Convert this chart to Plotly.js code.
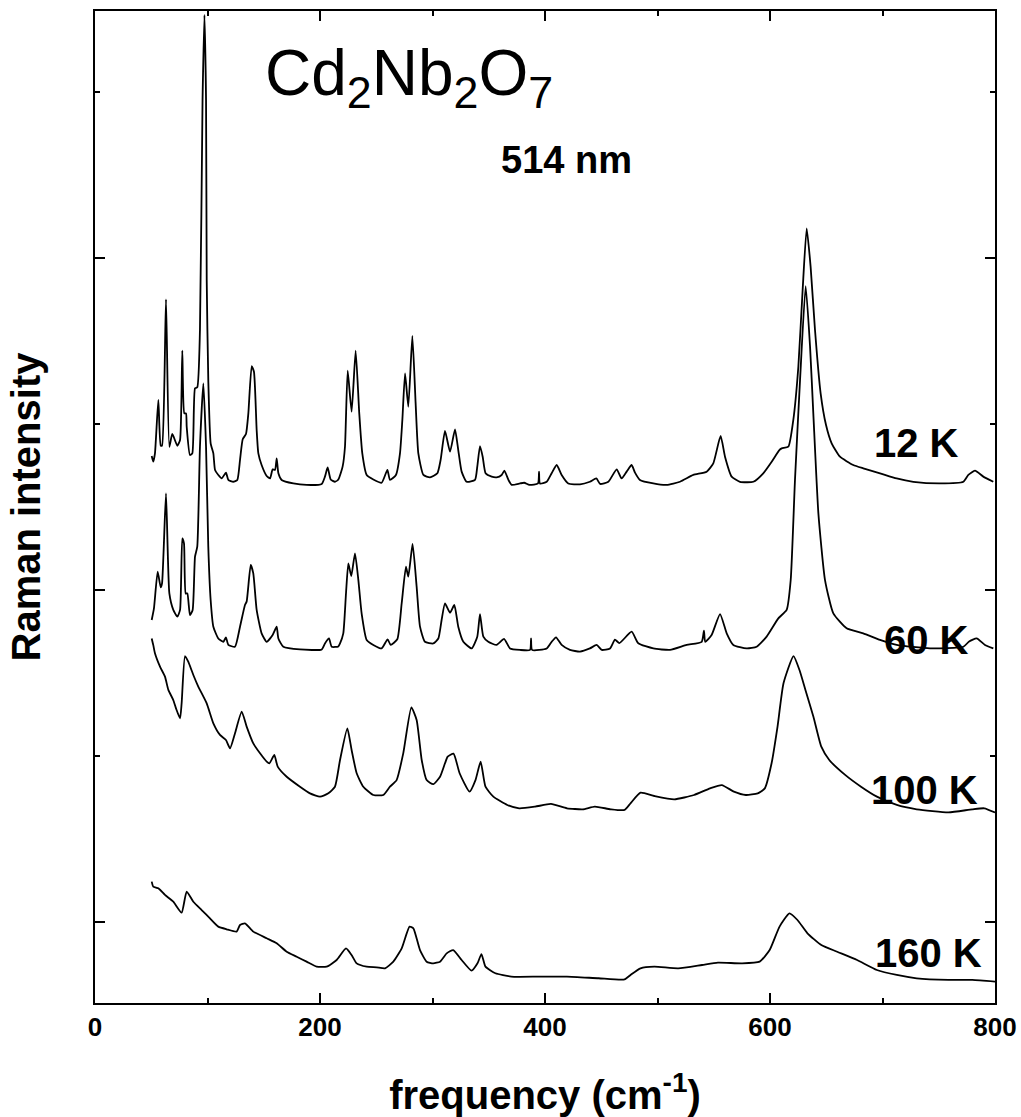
<!DOCTYPE html>
<html>
<head>
<meta charset="utf-8">
<script src="https://cdn.plot.ly/plotly-3.0.1.min.js"></script>
<style>
  html, body { margin: 0; padding: 0; background: #fff; }
  #chart { width: 1021px; height: 1117px; }
</style>
</head>
<body>
<div id="chart"></div>
<script>
// Raman spectra of Cd2Nb2O7 (514 nm excitation), curves offset vertically by temperature.
// Frequencies in cm^-1, intensities in arbitrary (offset) units.

const freq12K = [50.4,51.8,53.3,56.3,58.4,59.6,63.1,66.1,68.7,73.2,75.6,77.6,79.4,80.9,81.5,84.4,86.5,88.9,90.9,93.3,95.6,97.3,98.7,99.3,100.7,102.8,105.2,106.7,109.6,112.6,116.4,118.5,122.9,126.5,128.9,131.3,134.2,136.3,139.3,141.3,143.7,145.2,148.1,152.6,155.6,157.9,160.0,161.5,163.0,165.9,176.3,188.1,201.5,204.4,206.8,209.5,213.3,216.3,220.1,222.2,224.6,228.1,231.7,234.9,237.6,241.5,247.4,254.8,259.9,262.2,267.5,271.1,273.2,275.6,278.5,282.1,285.0,287.4,291.9,297.8,304.3,307.2,311.1,315.6,320.0,322.9,325.9,330.4,337.8,339.8,342.2,344.6,347.2,352.6,357.0,361.5,363.9,367.5,370.4,377.8,381.5,386.2,393.8,394.7,395.5,401.5,405.9,410.4,414.8,420.7,431.1,439.9,445.6,449.0,456.3,463.7,468.1,472.6,477.0,480.0,484.4,496.3,508.1,520.0,531.8,543.7,549.6,556.1,560.0,565.9,573.3,585.2,594.0,601.5,608.3,610.4,616.3,620.7,625.2,629.0,632.6,636.1,640.0,645.0,649.8,654.8,662.2,674.0,682.9,697.8,712.6,727.4,751.1,771.9,776.3,782.2,789.6,798.5];
const int12K = [2.807,2.773,2.823,3.145,2.870,2.870,3.751,2.863,2.940,2.869,2.904,3.442,3.064,3.064,2.984,2.813,2.823,3.215,3.221,3.566,4.952,5.464,4.952,3.867,3.265,2.884,2.823,2.723,2.693,2.672,2.707,2.663,2.652,2.663,2.783,2.908,2.940,3.064,3.349,3.315,2.964,2.823,2.753,2.687,2.672,2.727,2.723,2.793,2.703,2.663,2.642,2.633,2.639,2.683,2.738,2.666,2.652,2.666,2.743,2.863,3.321,3.074,3.442,3.064,2.823,2.693,2.666,2.646,2.723,2.663,2.693,2.823,3.024,3.305,3.104,3.530,3.124,2.823,2.693,2.679,2.703,2.783,2.958,2.833,2.968,2.843,2.713,2.652,2.663,2.743,2.867,2.803,2.703,2.683,2.679,2.693,2.719,2.663,2.633,2.642,2.646,2.633,2.642,2.713,2.642,2.652,2.703,2.753,2.693,2.642,2.636,2.652,2.672,2.639,2.652,2.727,2.672,2.713,2.753,2.707,2.663,2.642,2.633,2.652,2.693,2.713,2.763,2.928,2.803,2.683,2.652,2.652,2.703,2.773,2.843,2.853,2.863,3.024,3.345,3.807,4.178,3.948,3.566,3.185,2.994,2.884,2.803,2.753,2.733,2.703,2.672,2.652,2.642,2.652,2.693,2.719,2.683,2.652];

const freq60K = [50.4,52.4,55.7,58.4,59.6,63.1,66.1,69.6,73.2,75.6,77.6,79.1,80.6,82.1,84.4,86.8,88.9,90.9,93.3,96.3,98.7,100.7,102.8,105.2,109.6,114.1,116.4,118.5,124.4,128.9,133.3,134.8,138.4,140.7,143.7,148.1,152.6,157.9,161.5,163.0,167.4,182.2,201.5,204.4,208.0,210.4,216.3,217.8,220.7,223.1,225.2,227.8,231.1,234.1,237.0,241.5,247.4,254.8,260.1,262.8,268.7,272.6,276.4,278.5,282.3,285.9,288.9,293.3,300.7,305.2,308.1,311.1,315.6,319.4,322.9,327.4,334.8,339.8,342.2,345.2,349.6,357.0,363.6,368.9,377.8,386.7,387.6,388.5,401.5,405.9,409.8,414.8,422.2,431.1,439.9,445.9,450.4,457.8,462.2,466.1,477.0,482.9,496.3,511.1,525.9,539.3,541.3,542.4,548.1,555.6,561.5,567.4,579.3,588.1,597.0,607.4,614.8,618.4,622.2,626.7,631.7,635.6,638.5,643.0,648.9,656.3,668.1,682.9,697.8,712.6,742.2,771.9,777.0,783.7,791.1,798.5];
const int60K = [1.819,1.889,2.110,2.016,2.040,2.582,1.979,1.880,1.839,1.880,2.311,2.281,1.979,1.979,1.849,1.880,2.201,2.261,2.863,3.245,2.863,2.261,1.940,1.779,1.708,1.688,1.715,1.670,1.658,1.779,1.910,1.930,2.151,2.100,1.880,1.739,1.688,1.729,1.779,1.708,1.658,1.642,1.642,1.678,1.708,1.658,1.660,1.678,1.739,1.979,2.160,2.084,2.221,2.060,1.859,1.699,1.669,1.648,1.703,1.669,1.703,1.919,2.140,2.080,2.277,2.020,1.779,1.688,1.678,1.708,1.819,1.919,1.863,1.910,1.779,1.688,1.648,1.719,1.855,1.719,1.688,1.669,1.705,1.648,1.639,1.639,1.708,1.639,1.648,1.688,1.715,1.669,1.639,1.629,1.648,1.669,1.639,1.648,1.701,1.680,1.749,1.679,1.648,1.639,1.669,1.688,1.755,1.688,1.729,1.855,1.739,1.669,1.648,1.658,1.719,1.829,1.880,2.060,2.663,3.265,3.831,3.466,3.064,2.462,2.060,1.859,1.769,1.739,1.699,1.669,1.648,1.658,1.690,1.708,1.669,1.648];

const freq100K = [50.4,51.8,53.3,57.8,62.2,65.2,69.6,72.0,75.6,77.0,80.0,82.9,87.4,91.9,99.3,105.2,111.1,116.4,120.0,124.4,130.4,134.8,140.7,146.7,152.6,155.0,159.4,162.4,170.4,182.2,191.1,200.0,207.4,213.3,217.8,224.3,228.1,232.6,238.5,247.4,256.3,262.2,268.1,274.0,281.2,285.9,290.4,294.8,300.7,306.7,311.1,313.5,318.7,324.1,332.9,338.2,342.8,347.1,354.1,366.5,377.1,391.2,405.3,419.5,433.6,444.3,458.4,470.7,476.0,484.9,497.2,514.9,532.5,546.7,557.2,567.9,578.5,589.1,595.4,601.4,606.7,612.0,620.9,626.2,631.5,638.6,645.6,652.7,666.8,680.9,695.0,712.7,730.4,758.7,779.8,790.5,800.0];
const int100K = [1.708,1.668,1.619,1.538,1.478,1.398,1.337,1.287,1.227,1.317,1.602,1.568,1.488,1.417,1.317,1.197,1.127,1.096,1.046,1.136,1.267,1.177,1.076,1.016,0.966,0.956,1.006,0.936,0.875,0.815,0.775,0.755,0.775,0.815,0.976,1.166,1.036,0.896,0.815,0.765,0.765,0.815,0.855,1.016,1.293,1.217,0.976,0.855,0.830,0.875,0.956,0.996,1.014,0.896,0.785,0.855,0.966,0.815,0.755,0.705,0.685,0.695,0.711,0.685,0.679,0.695,0.679,0.675,0.715,0.779,0.759,0.739,0.765,0.805,0.825,0.785,0.765,0.775,0.805,0.956,1.177,1.438,1.602,1.518,1.398,1.237,1.056,0.976,0.886,0.815,0.755,0.705,0.679,0.660,0.679,0.685,0.660];

const freq160K = [50.4,51.8,56.3,62.2,69.6,77.0,81.5,87.4,94.8,102.2,109.6,117.0,125.9,128.9,133.3,140.7,152.6,161.5,170.4,179.3,188.1,197.0,205.9,214.8,223.1,228.1,232.6,241.5,250.4,257.8,265.2,272.6,279.6,283.0,288.9,294.8,300.7,306.7,312.6,318.4,325.9,334.7,340.0,343.5,347.1,355.9,370.0,394.8,419.5,447.7,470.7,476.0,484.9,497.2,518.4,539.6,553.7,574.9,590.8,599.7,608.5,617.3,624.4,633.3,645.6,659.7,677.4,695.0,712.7,730.4,758.7,779.8,800.0];
const int160K = [0.243,0.213,0.203,0.163,0.122,0.056,0.183,0.122,0.072,0.022,-0.028,-0.044,-0.058,-0.018,-0.008,-0.058,-0.098,-0.128,-0.179,-0.209,-0.239,-0.269,-0.269,-0.229,-0.159,-0.199,-0.249,-0.269,-0.273,-0.279,-0.239,-0.159,-0.028,-0.038,-0.169,-0.239,-0.249,-0.239,-0.189,-0.169,-0.229,-0.293,-0.249,-0.193,-0.269,-0.309,-0.329,-0.329,-0.329,-0.339,-0.346,-0.319,-0.279,-0.269,-0.279,-0.259,-0.245,-0.249,-0.239,-0.169,-0.028,0.052,0.012,-0.068,-0.139,-0.179,-0.229,-0.289,-0.319,-0.339,-0.349,-0.349,-0.359];

const temperatureLabels = ['12 K', '60 K', '100 K', '160 K'];
const xTickValues = [0, 200, 400, 600, 800];

const FONT = 'Liberation Sans, Arial, Helvetica, sans-serif';

const series = [
  [freq12K, int12K],
  [freq60K, int60K],
  [freq100K, int100K],
  [freq160K, int160K]
];

const traces = series.map(([x, y], i) => ({
  x: x,
  y: y,
  type: 'scatter',
  mode: 'lines',
  name: temperatureLabels[i],
  line: { color: '#000', width: 1.8, shape: 'spline', smoothing: 0.5 },
  hoverinfo: 'skip'
}));

// label positions: [x, y] in data units, left-anchored
const labelPos = [[690.7, 2.886], [699.6, 1.699], [688.0, 0.795], [691.6, -0.187]];

const annotations = temperatureLabels.map((t, i) => ({
  text: t,
  x: labelPos[i][0], y: labelPos[i][1],
  xref: 'x', yref: 'y',
  xanchor: 'left', yanchor: 'middle',
  showarrow: false,
  font: { family: FONT, size: 40, color: '#000', weight: 'bold' }
}));

annotations.push({
  text: 'Cd<sub>2</sub>Nb<sub>2</sub>O<sub>7</sub>',
  x: 149.3, y: 5.09, xref: 'x', yref: 'y',
  xanchor: 'left', yanchor: 'middle', showarrow: false,
  font: { family: FONT, size: 64, color: '#000' }
});
annotations.push({
  text: '514 nm',
  x: 359, y: 4.59, xref: 'x', yref: 'y',
  xanchor: 'left', yanchor: 'middle', showarrow: false,
  font: { family: FONT, size: 38, color: '#000', weight: 'bold' }
});

const layout = {
  width: 1021,
  height: 1117,
  margin: { l: 95, r: 26, t: 11, b: 114 },
  paper_bgcolor: '#fff',
  plot_bgcolor: '#fff',
  showlegend: false,
  xaxis: {
    range: [0, 800],
    tickvals: xTickValues,
    ticktext: xTickValues.map(String),
    ticks: 'inside',
    ticklen: 10,
    tickwidth: 2,
    tickcolor: '#000',
    minor: { dtick: 100, tick0: 0, ticks: 'inside', ticklen: 5, tickwidth: 2, tickcolor: '#000' },
    showline: true,
    linewidth: 2,
    linecolor: '#000',
    mirror: 'ticks',
    showgrid: false,
    zeroline: false,
    tickfont: { family: FONT, size: 26, color: '#000', weight: 'bold' },
    title: {
      text: 'frequency (cm<sup>-1</sup>)',
      font: { family: FONT, size: 40, color: '#000', weight: 'bold' },
      standoff: 42
    }
  },
  yaxis: {
    range: [-0.488, 5.488],
    tick0: 0,
    dtick: 2,
    ticks: 'inside',
    ticklen: 10,
    tickwidth: 2,
    tickcolor: '#000',
    minor: { dtick: 1, tick0: 0, ticks: 'inside', ticklen: 5, tickwidth: 2, tickcolor: '#000' },
    showticklabels: false,
    showline: true,
    linewidth: 2,
    linecolor: '#000',
    mirror: 'ticks',
    showgrid: false,
    zeroline: false,
    title: {
      text: 'Raman intensity',
      font: { family: FONT, size: 40, color: '#000', weight: 'bold' },
      standoff: 40
    }
  },
  annotations: annotations
};

Plotly.newPlot('chart', traces, layout, { staticPlot: true, displayModeBar: false });
</script>
</body>
</html>
